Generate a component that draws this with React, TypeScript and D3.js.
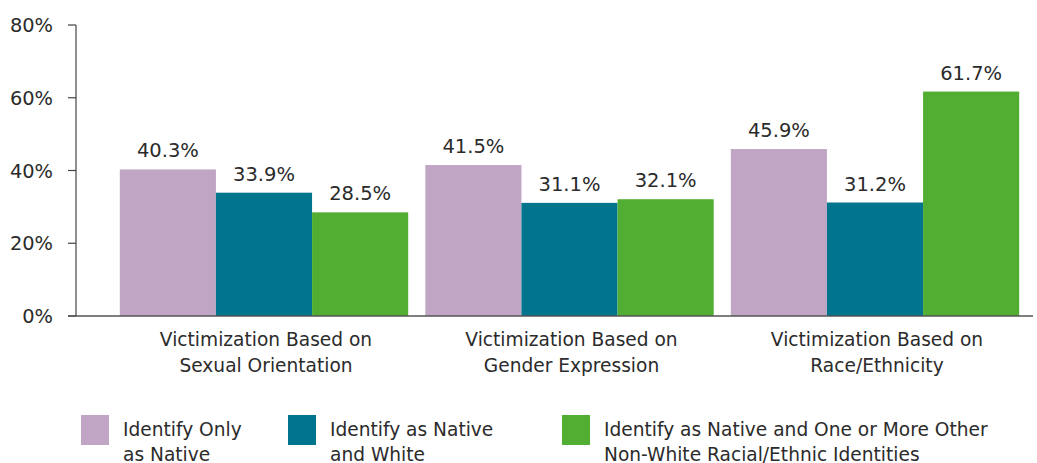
import React from "react";
import * as d3 from "d3";

const categories = [
  ["Victimization Based on", "Sexual Orientation"],
  ["Victimization Based on", "Gender Expression"],
  ["Victimization Based on", "Race/Ethnicity"],
];
const seriesNames = [
  ["Identify Only", "as Native"],
  ["Identify as Native", "and White"],
  ["Identify as Native and One or More Other", "Non-White Racial/Ethnic Identities"],
];
const onlyNative = [40.3, 41.5, 45.9];
const nativeWhite = [33.9, 31.1, 31.2];
const nativeOther = [28.5, 32.1, 61.7];
const yTicks = [0, 20, 40, 60, 80];
const colors = ["#C0A6C4", "#00758D", "#52AE32"];

const series = [onlyNative, nativeWhite, nativeOther];
const FONT = "'DejaVu Sans', sans-serif";
const TEXT = "#2b2b2b";

export default function App() {
  const W = 1037, H = 463;
  const y = d3.scaleLinear().domain([0, 80]).range([316, 25]);
  const x0 = d3
    .scaleBand<number>()
    .domain(categories.map((_, i) => i))
    .range([111.25, 1027.75])
    .paddingInner(0.056)
    .paddingOuter(0.028);
  const x1 = d3
    .scaleBand<number>()
    .domain(series.map((_, i) => i))
    .range([0, x0.bandwidth()]);
  const legendX = [81, 288, 562];

  return (
    <svg width={W} height={H} style={{ position: "absolute", left: 0, top: 0 }} fontFamily={FONT}>
      {series.map((vals, si) =>
        vals.map((v, ci) => {
          const bx = (x0(ci) ?? 0) + (x1(si) ?? 0);
          return (
            <g key={`${si}-${ci}`}>
              <rect x={bx} y={y(v)} width={x1.bandwidth()} height={y(0) - y(v)} fill={colors[si]} />
              <text x={bx + x1.bandwidth() / 2} y={y(v) - 12} textAnchor="middle" fontSize={19.5} fill={TEXT}>
                {v.toFixed(1)}%
              </text>
            </g>
          );
        })
      )}
      {/* y axis */}
      <line x1={76} x2={76} y1={25} y2={316} stroke="#444" strokeWidth={1.2} />
      {yTicks.map((t) => (
        <g key={t}>
          <line x1={68} x2={76} y1={y(t)} y2={y(t)} stroke="#444" strokeWidth={1.2} />
          <text x={53} y={y(t) + 7} textAnchor="end" fontSize={19.4} fill={TEXT}>
            {t}%
          </text>
        </g>
      ))}
      {/* x axis */}
      <line x1={68} x2={1033} y1={316} y2={316} stroke="#555" strokeWidth={1.5} />
      {categories.map((lines, ci) => (
        <text key={ci} textAnchor="middle" fontSize={18.6} fill={TEXT}>
          {lines.map((l, li) => (
            <tspan key={li} x={(x0(ci) ?? 0) + x0.bandwidth() / 2 + 2} y={346 + li * 26}>
              {l}
            </tspan>
          ))}
        </text>
      ))}
      {/* legend */}
      {seriesNames.map((lines, si) => (
        <g key={si}>
          <rect x={legendX[si]} y={415} width={28} height={30} fill={colors[si]} />
          <text fontSize={18.6} fill={TEXT}>
            {lines.map((l, li) => (
              <tspan key={li} x={legendX[si] + 42} y={436 + li * 24.5}>
                {l}
              </tspan>
            ))}
          </text>
        </g>
      ))}
    </svg>
  );
}
